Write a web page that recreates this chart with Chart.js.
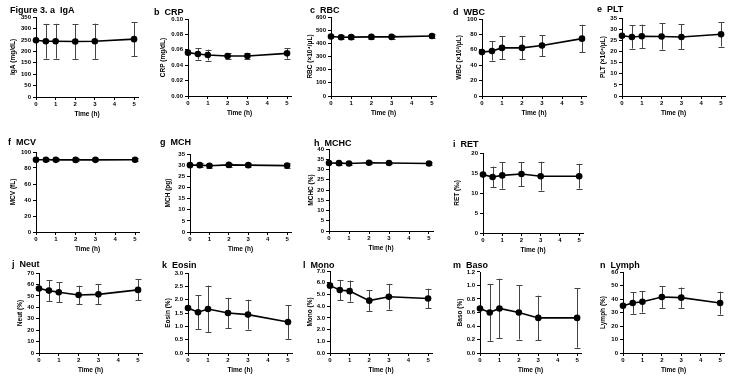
<!DOCTYPE html>
<html>
<head>
<meta charset="utf-8">
<script src="https://cdn.jsdelivr.net/npm/chart.js@4.4.1/dist/chart.umd.min.js"></script>
<style>
html, body { margin: 0; padding: 0; background: #fff; }
body { width: 750px; height: 385px; position: relative; overflow: hidden; font-family: "Liberation Sans", Arial, sans-serif; }
.panel { position: absolute; }
.panel canvas { display: block; }
.ttl { position: absolute; font-weight: bold; font-size: 9px; line-height: 10px; white-space: pre; color: #000; }
</style>
</head>
<body>
<script>
// data (mean, SD); time points in hours
const times = [0, 0.5, 1, 2, 3, 5];
const xTicks = [0, 1, 2, 3, 4, 5];

const igaMean = [248, 244, 244, 243, 244, 253];
const igaSd = [null, 76, 76, 76, 77, 75];
const crpMean = [0.0563, 0.0545, 0.0532, 0.052, 0.052, 0.0554];
const crpSd = [null, 0.0072, 0.0071, 0.0033, 0.0039, 0.007];
const rbcMean = [452, 446, 447, 449, 449, 456];
const rbcSd = [null, 16, 14, 15, 14, 17];
const wbcMean = [57, 58.5, 62.5, 62.5, 65.5, 74.5];
const wbcSd = [null, 12.5, 15, 15, 13.5, 18];
const pltMean = [27, 26.5, 26.8, 26.7, 26.5, 27.7];
const pltSd = [null, 5.2, 5.2, 5.9, 5.6, 5.5];
const mcvMean = [90.3, 90.3, 90.2, 90.1, 90.2, 90.3];
const mcvSd = [null, 1.8, 1.8, 1.8, 1.8, 1.8];
const mchMean = [30.0, 30.0, 29.7, 30.1, 30.0, 29.8];
const mchSd = [null, 1, 1, 1, 1, 1];
const mchcMean = [33.2, 33.1, 32.9, 33.3, 33.2, 32.9];
const mchcSd = [null, 0.7, 0.7, 0.7, 0.7, 0.7];
const retMean = [14.6, 14.0, 14.4, 14.75, 14.2, 14.2];
const retSd = [null, 2.6, 3.3, 3.0, 3.6, 3.1];
const neutMean = [56.4, 54.6, 53.2, 50.8, 51.3, 55.2];
const neutSd = [null, 9, 8.7, 8.1, 8.7, 9.2];
const eosinMean = [1.69, 1.53, 1.65, 1.5, 1.44, 1.16];
const eosinSd = [null, 0.63, 0.88, 0.57, 0.56, 0.63];
const monoMean = [5.75, 5.38, 5.28, 4.47, 4.8, 4.65];
const monoSd = [null, 0.86, 0.9, 0.88, 1.1, 0.84];
const basoMean = [0.66, 0.6, 0.66, 0.6, 0.52, 0.52];
const basoSd = [null, 0.42, 0.44, 0.4, 0.33, 0.44];
const lymphMean = [35, 37, 38, 41.5, 41, 37];
const lymphSd = [null, 8, 8, 8, 7.5, 8.5];

// panel list: title, axis title, series, y range [max, step, decimals]
const panels = [
  {title: 'Figure 3. a  IgA', yLabel: 'IgA (mg/dL)', mean: igaMean, sd: igaSd, y: [350, 50, 0]},
  {title: 'b  CRP', yLabel: 'CRP (mg/dL)', mean: crpMean, sd: crpSd, y: [0.1, 0.02, 2]},
  {title: 'c  RBC', yLabel: 'RBC (×10⁴/μL)', mean: rbcMean, sd: rbcSd, y: [600, 100, 0]},
  {title: 'd  WBC', yLabel: 'WBC (×10²/μL)', mean: wbcMean, sd: wbcSd, y: [100, 20, 0]},
  {title: 'e  PLT', yLabel: 'PLT (×10⁴/μL)', mean: pltMean, sd: pltSd, y: [35, 5, 0]},
  {title: 'f  MCV', yLabel: 'MCV (fL)', mean: mcvMean, sd: mcvSd, y: [100, 20, 0]},
  {title: 'g  MCH', yLabel: 'MCH (pg)', mean: mchMean, sd: mchSd, y: [35, 5, 0]},
  {title: 'h  MCHC', yLabel: 'MCHC (%)', mean: mchcMean, sd: mchcSd, y: [40, 5, 0]},
  {title: 'i  RET', yLabel: 'RET (‰)', mean: retMean, sd: retSd, y: [20, 5, 0]},
  {title: 'j  Neut', yLabel: 'Neut (%)', mean: neutMean, sd: neutSd, y: [70, 10, 0]},
  {title: 'k  Eosin', yLabel: 'Eosin (%)', mean: eosinMean, sd: eosinSd, y: [3, 0.5, 1]},
  {title: 'l  Mono', yLabel: 'Mono (%)', mean: monoMean, sd: monoSd, y: [7, 1, 1]},
  {title: 'm  Baso', yLabel: 'Baso (%)', mean: basoMean, sd: basoSd, y: [1.2, 0.2, 1]},
  {title: 'n  Lymph', yLabel: 'Lymph (%)', mean: lymphMean, sd: lymphSd, y: [60, 10, 0]},
];

// where each panel sits on the page: axis x at 0 and 5, y at max and 0, y title offset, panel title pos
const boxes = [
  {px0: 36, px5: 134, top: 17, bot: 97, yOff: 23, tx: 10, ty: 5},
  {px0: 188, px5: 287, top: 19, bot: 96, yOff: 25, tx: 154, ty: 7},
  {px0: 331, px5: 432, top: 17, bot: 96, yOff: 21, tx: 310, ty: 5},
  {px0: 482, px5: 582, top: 19, bot: 96, yOff: 23, tx: 453, ty: 7},
  {px0: 622, px5: 721, top: 18, bot: 96, yOff: 19, tx: 597, ty: 4},
  {px0: 36, px5: 135, top: 152, bot: 232, yOff: 23, tx: 8, ty: 137},
  {px0: 190, px5: 287, top: 154, bot: 232, yOff: 22, tx: 160, ty: 137},
  {px0: 329, px5: 429, top: 149, bot: 231, yOff: 18, tx: 314, ty: 138},
  {px0: 483, px5: 579, top: 153, bot: 233, yOff: 26, tx: 453, ty: 139},
  {px0: 39, px5: 138, top: 273, bot: 353, yOff: 19, tx: 12, ty: 259},
  {px0: 188, px5: 288, top: 273, bot: 353, yOff: 20, tx: 162, ty: 260},
  {px0: 330, px5: 428, top: 271, bot: 353, yOff: 20, tx: 303, ty: 260},
  {px0: 480, px5: 577, top: 272, bot: 353, yOff: 20, tx: 453, ty: 260},
  {px0: 623, px5: 720, top: 272, bot: 353, yOff: 20, tx: 600, ty: 260},
];

const X_MAX = 5.2;
const PAD_TOP = 8;
const PAD_R = 4;
const X_H = 21;

Chart.defaults.font.family = '"Liberation Sans", Arial, sans-serif';
Chart.defaults.font.weight = 'bold';
Chart.defaults.color = '#000';

// SD whiskers drawn under the line
const errorBars = {
  id: 'errorBars',
  beforeDatasetsDraw(chart) {
    const {ctx, scales: {y}} = chart;
    const ds = chart.data.datasets[0];
    const meta = chart.getDatasetMeta(0);
    ctx.save();
    ctx.strokeStyle = '#444';
    ctx.lineWidth = 1;
    meta.data.forEach((pt, i) => {
      const s = ds.sd[i];
      if (s == null) return;
      const v = ds.data[i].y;
      const yt = y.getPixelForValue(v + s);
      const yb = y.getPixelForValue(v - s);
      const x = Math.round(pt.x) + 0.5;
      ctx.beginPath();
      ctx.moveTo(x, yt); ctx.lineTo(x, yb);
      ctx.moveTo(x - 3, Math.round(yt) + 0.5); ctx.lineTo(x + 3, Math.round(yt) + 0.5);
      ctx.moveTo(x - 3, Math.round(yb) + 0.5); ctx.lineTo(x + 3, Math.round(yb) + 0.5);
      ctx.stroke();
    });
    ctx.restore();
  }
};

function makePanel(p, b) {
  const wy = Math.round(b.yOff + 4);
  const plotW = (b.px5 - b.px0) * X_MAX / 5;
  const w = Math.round(wy + plotW + PAD_R);
  const h = Math.round(PAD_TOP + (b.bot - b.top) + X_H);

  const div = document.createElement('div');
  div.className = 'panel';
  div.style.left = (b.px0 - wy) + 'px';
  div.style.top = (b.top - PAD_TOP) + 'px';
  const canvas = document.createElement('canvas');
  canvas.width = w;
  canvas.height = h;
  canvas.style.width = w + 'px';
  canvas.style.height = h + 'px';
  div.appendChild(canvas);
  document.body.appendChild(div);

  const t = document.createElement('div');
  t.className = 'ttl';
  t.style.left = b.tx + 'px';
  t.style.top = b.ty + 'px';
  t.textContent = p.title;
  document.body.appendChild(t);

  const [yMax, yStep, dec] = p.y;
  const axisLine = {display: true, color: '#000', width: 1};
  const tickMarks = {display: true, drawOnChartArea: false, drawTicks: true, tickLength: 3, color: '#000', lineWidth: 1};

  new Chart(canvas, {
    type: 'line',
    data: {
      datasets: [{
        data: times.map((t, i) => ({x: t, y: p.mean[i]})),
        sd: p.sd,
        borderColor: '#000',
        borderWidth: 1.6,
        pointRadius: 3.3,
        pointBackgroundColor: '#000',
        pointBorderWidth: 0,
        tension: 0,
        clip: false,
      }]
    },
    options: {
      responsive: false,
      animation: false,
      devicePixelRatio: 1,
      layout: {padding: {top: PAD_TOP, right: PAD_R, left: 0, bottom: 0}},
      plugins: {legend: {display: false}, tooltip: {enabled: false}},
      scales: {
        x: {
          type: 'linear',
          min: 0,
          max: X_MAX,
          afterBuildTicks(scale) { scale.ticks = xTicks.map(v => ({value: v})); },
          afterFit(scale) { scale.height = X_H; },
          border: axisLine,
          grid: tickMarks,
          ticks: {font: {size: 6, weight: 'bold'}, padding: 1, maxRotation: 0, autoSkip: false},
          title: {display: true, text: 'Time (h)', font: {size: 6.5, weight: 'bold'}, padding: 0},
        },
        y: {
          min: 0,
          max: yMax,
          afterBuildTicks(scale) {
            const n = Math.round(yMax / yStep);
            scale.ticks = Array.from({length: n + 1}, (_, i) => ({value: i * yStep}));
          },
          afterFit(scale) { scale.width = wy; },
          border: axisLine,
          grid: tickMarks,
          ticks: {
            font: {size: 6, weight: 'bold'},
            padding: 2,
            callback: v => Number(v).toFixed(dec),
          },
          title: {display: true, text: p.yLabel, font: {size: 6.5, weight: 'bold'}, padding: 0},
        }
      }
    },
    plugins: [errorBars]
  });
}

panels.forEach((p, i) => makePanel(p, boxes[i]));
</script>
</body>
</html>
